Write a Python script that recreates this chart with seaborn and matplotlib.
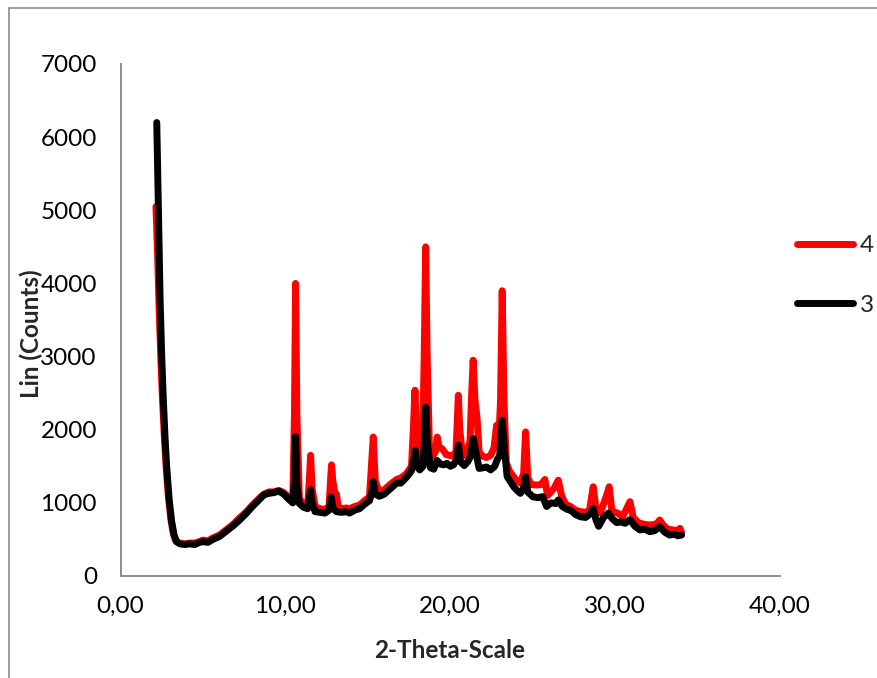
import matplotlib
matplotlib.use("Agg")
import matplotlib.pyplot as plt
import seaborn as sns
import pandas as pd
from matplotlib.ticker import FuncFormatter, MultipleLocator
from matplotlib.lines import Line2D

# ---- data ----
x3 = [2.20, 2.30, 2.40, 2.50, 2.60, 2.70, 2.80, 2.95, 3.10, 3.25, 3.40, 3.60, 3.90, 4.20, 4.50,
      4.80, 5.00, 5.30, 5.60, 6.00, 6.40, 6.80, 7.20, 7.60, 8.00, 8.40, 8.70, 9.00, 9.30, 9.60,
      9.90, 10.20, 10.45, 10.55, 10.62, 10.70, 10.85, 11.10, 11.35, 11.45, 11.53, 11.62, 11.80,
      12.10, 12.40, 12.65, 12.78, 12.90, 13.10, 13.40, 13.70, 13.90, 14.20, 14.50, 14.80, 15.10,
      15.25, 15.33, 15.45, 15.70, 16.00, 16.40, 16.75, 17.00, 17.35, 17.65, 17.80, 17.88, 17.98,
      18.15, 18.35, 18.45, 18.52, 18.62, 18.80, 19.00, 19.20, 19.40, 19.60, 19.80, 20.00, 20.20,
      20.40, 20.50, 20.62, 20.85, 21.05, 21.20, 21.40, 21.55, 21.75, 22.00, 22.20, 22.45, 22.70,
      22.85, 23.00, 23.15, 23.30, 23.45, 23.65, 23.85, 24.05, 24.25, 24.45, 24.57, 24.70, 25.00,
      25.30, 25.60, 25.85, 26.10, 26.40, 26.55, 26.80, 27.10, 27.30, 27.60, 27.90, 28.20, 28.50,
      28.67, 28.85, 29.00, 29.30, 29.60, 29.80, 30.10, 30.40, 30.60, 30.90, 31.20, 31.50, 31.80,
      32.10, 32.40, 32.70, 33.00, 33.30, 33.60, 33.80, 34.03]
y3 = [6200, 5000, 3800, 3000, 2400, 1900, 1500, 1050, 750, 560, 470, 440, 430, 440, 430,
      460, 470, 460, 500, 540, 610, 680, 760, 850, 950, 1040, 1110, 1130, 1140, 1160,
      1120, 1050, 1000, 1300, 1910, 1250, 990, 940, 920, 1050, 1180, 1000, 880,
      870, 860, 900, 1080, 920, 880, 870, 880, 860, 900, 920, 980, 1030,
      1150, 1290, 1120, 1090, 1120, 1200, 1270, 1270, 1350, 1440, 1600, 1720, 1500,
      1450, 1500, 1900, 2310, 1800, 1480, 1460, 1580, 1530, 1520, 1540, 1500, 1520,
      1600, 1790, 1560, 1510, 1560, 1620, 1880, 1700, 1470, 1480, 1490, 1450, 1500,
      1590, 1650, 2130, 1700, 1360, 1290, 1220, 1170, 1130, 1200, 1360, 1150, 1085,
      1070, 1085, 950, 1000, 990, 1040, 950, 910, 900, 840, 810, 800, 850,
      920, 760, 680, 800, 860, 790, 730, 740, 720, 770, 680, 630, 640,
      606, 620, 675, 600, 560, 570, 550, 560]

x4 = [2.15, 2.25, 2.35, 2.45, 2.55, 2.65, 2.75, 2.90, 3.05, 3.20, 3.35, 3.55, 3.90, 4.20, 4.50,
      4.80, 5.00, 5.30, 5.60, 6.00, 6.40, 6.80, 7.20, 7.60, 8.00, 8.40, 8.70, 9.00, 9.30, 9.60,
      9.90, 10.20, 10.45, 10.55, 10.62, 10.70, 10.85, 11.10, 11.35, 11.45, 11.53, 11.62, 11.80,
      12.10, 12.40, 12.65, 12.75, 12.80, 12.88, 13.00, 13.10, 13.20, 13.40, 13.70, 13.90, 14.20,
      14.50, 14.80, 15.10, 15.22, 15.33, 15.45, 15.70, 16.00, 16.40, 16.75, 17.00, 17.35, 17.65,
      17.78, 17.86, 17.95, 18.10, 18.30, 18.42, 18.51, 18.60, 18.75, 18.95, 19.10, 19.21, 19.32,
      19.45, 19.58, 19.75, 19.95, 20.15, 20.35, 20.42, 20.49, 20.58, 20.75, 21.00, 21.20, 21.30,
      21.39, 21.50, 21.62, 21.75, 21.95, 22.20, 22.45, 22.65, 22.81, 22.95, 23.05, 23.15, 23.26,
      23.40, 23.60, 23.80, 24.00, 24.25, 24.45, 24.57, 24.70, 24.90, 25.24, 25.50, 25.74, 25.90,
      26.30, 26.55, 26.75, 27.00, 27.30, 27.60, 27.90, 28.20, 28.45, 28.67, 28.85, 29.10, 29.32,
      29.48, 29.64, 29.80, 30.00, 30.19, 30.45, 30.65, 30.90, 31.10, 31.40, 31.70, 32.00, 32.30,
      32.55, 32.70, 32.90, 33.20, 33.50, 33.80, 33.93, 34.03]
y4 = [5050, 4400, 3600, 2950, 2400, 1950, 1550, 1100, 780, 580, 480, 450, 440, 450, 450,
      470, 490, 480, 520, 560, 630, 700, 790, 870, 970, 1060, 1120, 1150, 1150, 1170,
      1140, 1080, 1050, 2200, 4000, 2200, 1060, 980, 960, 1300, 1650, 1200, 950,
      920, 910, 950, 1350, 1520, 1300, 1130, 1120, 950, 920, 930, 920, 950,
      970, 1030, 1080, 1500, 1900, 1300, 1150, 1180, 1260, 1320, 1340, 1400, 1500,
      2100, 2540, 2000, 1560, 1600, 3000, 4500, 3000, 1650, 1640, 1700, 1900, 1760,
      1750, 1720, 1660, 1650, 1640, 1700, 2100, 2470, 2000, 1640, 1680, 1850, 2500,
      2950, 2400, 2180, 1700, 1640, 1620, 1650, 1750, 2060, 1900, 2400, 3900, 2400,
      1550, 1430, 1370, 1310, 1270, 1400, 1970, 1350, 1250, 1244, 1250, 1320, 1100,
      1200, 1310, 1100, 980, 950, 900, 880, 870, 900, 1220, 900, 860, 1000,
      1100, 1220, 900, 870, 857, 800, 900, 1016, 800, 730, 710, 700, 700,
      720, 766, 700, 640, 630, 620, 652, 600]

series_names = ["4", "3"]
colors = {"4": "#ff0000", "3": "#000000"}
x_ticks = [0, 10, 20, 30, 40]

df = pd.concat([
    pd.DataFrame({"x": x4, "y": y4, "s": "4"}),
    pd.DataFrame({"x": x3, "y": y3, "s": "3"}),
], ignore_index=True)

# ---- figure ----
sns.set_style("white")
plt.rcParams["font.family"] = ["Lato", "DejaVu Sans"]

W, H = 877, 678
fig = plt.figure(figsize=(W / 100, H / 100), dpi=100)
ax = fig.add_axes([120.5 / W, 1 - 576 / H, (780 - 120.5) / W, (576 - 64) / H])

LW = 5.0
sns.lineplot(data=df, x="x", y="y", hue="s", hue_order=series_names, palette=colors,
             estimator=None, sort=False, units="s", linewidth=LW, ax=ax, legend=False)
for ln in ax.get_lines():
    ln.set_solid_capstyle("round")
    ln.set_solid_joinstyle("round")

ax.set_xlim(0, 40)
ax.set_ylim(0, 7000)
ax.set_xticks(x_ticks)
ax.yaxis.set_major_locator(MultipleLocator(1000))
ax.xaxis.set_major_formatter(FuncFormatter(lambda v, p: f"{v:.2f}".replace(".", ",")))
ax.yaxis.set_major_formatter(FuncFormatter(lambda v, p: f"{int(v)}"))

gray = "#8c8c8c"
for side in ["top", "right"]:
    ax.spines[side].set_visible(False)
for side in ["left", "bottom"]:
    ax.spines[side].set_color(gray)
    ax.spines[side].set_linewidth(1.4)
ax.tick_params(axis="both", which="major", direction="out", length=5, width=1.4,
               color=gray, labelsize=17.5, labelcolor="black")
ax.tick_params(axis="y", pad=12)
ax.tick_params(axis="x", pad=9)
ax.set_xlabel("")
ax.set_ylabel("")

fig.text(450 / W, 1 - 650 / H, "2-Theta-Scale", ha="center", va="center",
         fontsize=17.5, fontweight="bold")
fig.text(31 / W, 1 - 334 / H, "Lin (Counts)", ha="center", va="center",
         rotation=90, fontsize=17.5, fontweight="bold")

handles = [Line2D([], [], color=colors[s], lw=LW, solid_capstyle="round") for s in series_names]
fig.legend(handles, series_names, loc="center left", bbox_to_anchor=(797 / W, 1 - 275.5 / H),
           frameon=False, fontsize=17.5, handlelength=2.3, handletextpad=0.3,
           labelspacing=1.6, borderpad=0, borderaxespad=0)

# chart-area border (partially outside the image)
fig.add_artist(Line2D([8.5 / W, 8.5 / W], [-0.1, 1 - 7.5 / H], color=gray, lw=1.2,
                      transform=fig.transFigure))
fig.add_artist(Line2D([8.5 / W, 1.1], [1 - 7.5 / H, 1 - 7.5 / H], color=gray, lw=1.2,
                      transform=fig.transFigure))

fig.savefig("out.png", dpi=100)
